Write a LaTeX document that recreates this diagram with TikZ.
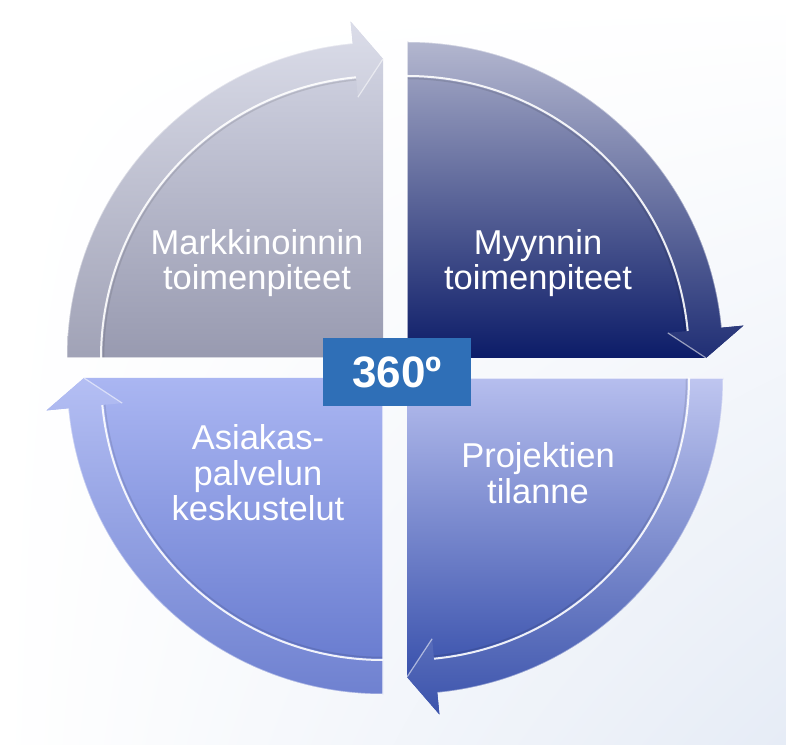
\documentclass[tikz,border=0pt]{standalone}
\usepackage{fontspec}
\setmainfont{Liberation Sans}
\usetikzlibrary{shadings}
\definecolor{bgblue}{HTML}{E6ECF6}
\definecolor{boxblue}{HTML}{2F6FB7}
\definecolor{tlTop}{HTML}{D6D8E6}
\definecolor{tlBot}{HTML}{989AB0}
\definecolor{trTop}{HTML}{A8ACC8}
\definecolor{trBot}{HTML}{0C1C68}
\definecolor{brTop}{HTML}{B6BEEE}
\definecolor{brBot}{HTML}{2A44A4}
\definecolor{blTop}{HTML}{AAB6F2}
\definecolor{blBot}{HTML}{6276CC}
\newcommand\drawquadrant[4]{%
  \begin{scope}[shift={#1}]
    \shade[top color=#3, bottom color=#4]
      (0,0) -- (#2:316) arc[start angle=#2, delta angle=-84.5, radius=316]
      -- ({#2-84.5}:338) -- ({#2-90}:299) -- cycle;
    \shade[top color=#3!88!white, bottom color=#4!92!white]
      (#2:316) arc[start angle=#2, delta angle=-84.5, radius=316]
      -- ({#2-84.5}:338) -- ({#2-90}:299) -- ({#2-84.5}:262) -- ({#2-84.5}:282)
      arc[start angle={#2-84.5}, delta angle=84.5, radius=282] -- cycle;
    \draw[black, line width=1.5pt, opacity=0.10]
      ({#2-84.5}:279.5) arc[start angle={#2-84.5}, delta angle=84.5, radius=279.5];
    \draw[white, line width=2pt, opacity=0.9]
      ({#2-84.5}:282) arc[start angle={#2-84.5}, delta angle=84.5, radius=282];
    \draw[white, line width=1.2pt, opacity=0.55]
      ({#2-84.5}:262) -- ({#2-90}:299);
    \draw[white, line width=1pt, opacity=0.45]
      (#2:316) arc[start angle=#2, delta angle=-84.5, radius=316];
    \draw[white, line width=1.2pt, opacity=0.6] (0,0) -- (#2:316);
  \end{scope}}
\tikzset{
  lbl/.style={text=white, align=center, inner sep=0pt,
    font=\fontsize{34.5}{35.6}\selectfont},
  centrebox/.style={fill=boxblue, text=white, minimum width=148pt,
    minimum height=68pt, inner sep=0pt,
    font=\bfseries\fontsize{44}{44}\selectfont}
}
\begin{document}
\begin{tikzpicture}[x=1pt,y=1pt]
\useasboundingbox (0,0) rectangle (786,744);
\shade[upper left=white, upper right=white, lower left=white, lower right=bgblue]
  (0,0) rectangle (786,744);
\drawquadrant{(383,386)}{180}{tlTop}{tlBot}
\drawquadrant{(407,386)}{90}{trTop}{trBot}
\drawquadrant{(407,366)}{0}{brTop}{brBot}
\drawquadrant{(383,366)}{-90}{blTop}{blBot}
\node[lbl] (tl) at (257,481) {Markkinoinnin\\toimenpiteet};
\node[lbl] (tr) at (538,481) {Myynnin\\toimenpiteet};
\node[lbl] (br) at (538,271) {Projektien\\tilanne};
\node[lbl] (bl) at (258,271) {Asiakas-\\palvelun\\keskustelut};
\node[centrebox] (c) at (397,372) {360º};
\end{tikzpicture}
\end{document}
